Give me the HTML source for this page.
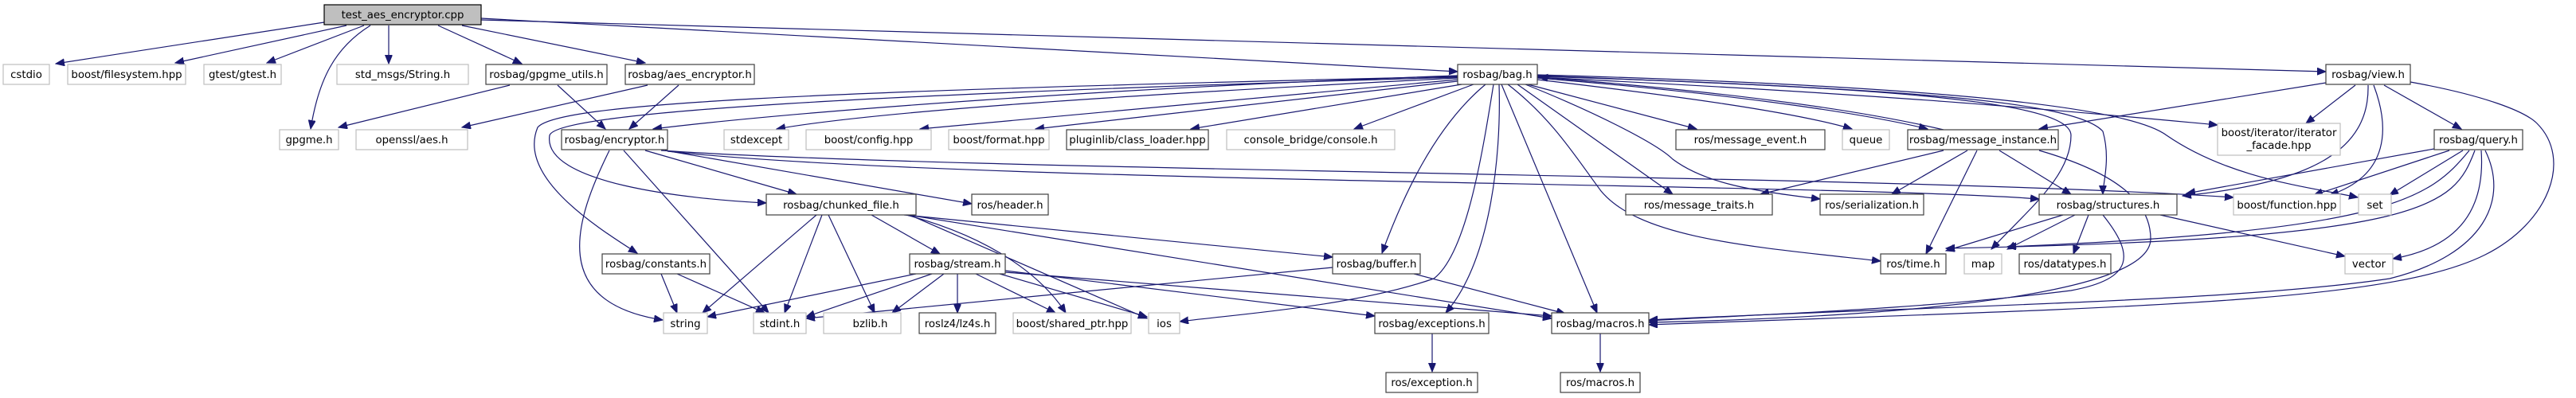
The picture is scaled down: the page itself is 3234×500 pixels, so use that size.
<!DOCTYPE html>
<html><head><meta charset="utf-8"><style>
html,body{margin:0;padding:0;background:#fff;}
svg{display:block;}
text{font-family:"DejaVu Sans","Liberation Sans",sans-serif;font-size:13.3px;fill:#000;text-anchor:middle;}
.b{fill:#fff;stroke:#404040;stroke-width:1.2;}
.g{fill:#fff;stroke:#bfbfbf;stroke-width:1.2;}
.e path{fill:none;stroke:#191970;stroke-width:1.2;marker-end:url(#a);}
</style></head><body>
<svg width="3234" height="500" viewBox="0 0 3234 500" xmlns="http://www.w3.org/2000/svg">
<defs><marker id="a" markerUnits="userSpaceOnUse" markerWidth="12" markerHeight="10" refX="11" refY="4.5" orient="auto"><path d="M0,0 L11,4.5 L0,9 z" fill="#191970" stroke="#191970"/></marker></defs>
<g class="e">
<path d="M407,28 L70,80"/>
<path d="M435,32 L220,79"/>
<path d="M457,32 L335,79"/>
<path d="M465,32 C420,60 400,100 390,162"/>
<path d="M488,32 L488,80"/>
<path d="M550,32 L655,80"/>
<path d="M580,32 L810,79"/>
<path d="M604,23 L1830,90"/>
<path d="M604,25 L2920,90"/>
<path d="M640,107 L425,160"/>
<path d="M700,107 L760,162"/>
<path d="M813,107 L580,160"/>
<path d="M852,107 L790,162"/>
<path d="M765,189 C720,280 690,380 832,402"/>
<path d="M783,189 L965,393"/>
<path d="M810,189 L1000,244"/>
<path d="M835,189 L1220,256"/>
<path d="M838,190 C1200,230 2300,230 2560,250"/>
<path d="M830,189 C1200,215 2400,220 2804,248"/>
<path d="M1830,95 C1400,110 1000,140 820,162"/>
<path d="M1830,96 C1000,115 700,130 675,160 C650,220 740,280 800,318"/>
<path d="M1830,97 C1100,118 700,140 690,170 C680,230 860,250 962,255"/>
<path d="M1830,98 C1400,120 1100,140 975,162"/>
<path d="M1830,100 L1155,162"/>
<path d="M1830,102 L1300,162"/>
<path d="M1835,106 L1495,162"/>
<path d="M1850,106 L1700,162"/>
<path d="M1865,106 C1800,160 1760,250 1735,318"/>
<path d="M1875,106 C1860,200 1840,320 1800,350 C1700,385 1550,395 1481,404"/>
<path d="M1882,106 C1885,200 1870,330 1815,393"/>
<path d="M1885,106 L2005,393"/>
<path d="M1893,106 C1950,150 1980,200 2010,240 C2060,300 2200,310 2361,328"/>
<path d="M1905,106 L2100,244"/>
<path d="M1915,106 C2000,140 2080,180 2100,200 C2140,230 2200,240 2285,250"/>
<path d="M1918,106 L2130,162"/>
<path d="M1930,100 C2100,120 2250,140 2325,162"/>
<path d="M1930,98 C2200,120 2350,145 2420,162"/>
<path d="M2440,163 C2300,130 2100,110 1932,97"/>
<path d="M1930,95 C2300,110 2600,120 2640,165 C2650,200 2640,230 2640,244"/>
<path d="M1930,96 C2400,110 2600,130 2600,170 C2600,220 2550,260 2500,313"/>
<path d="M1930,94 C2500,110 2680,140 2720,170 C2800,225 2900,235 2960,248"/>
<path d="M1930,97 C2400,120 2600,140 2784,157"/>
<path d="M2440,189 L2210,244"/>
<path d="M2470,189 L2375,244"/>
<path d="M2482,189 L2418,319"/>
<path d="M2510,189 L2600,244"/>
<path d="M2560,189 C2650,215 2700,250 2700,300 C2700,380 2300,400 2070,405"/>
<path d="M2920,104 L2560,162"/>
<path d="M2957,107 L2895,155"/>
<path d="M2980,107 C3000,160 3000,220 2925,245"/>
<path d="M2973,107 C2975,190 2900,230 2740,246"/>
<path d="M2993,107 L3090,162"/>
<path d="M3026,103 C3120,120 3170,140 3185,155 C3230,200 3200,280 3120,320 C3000,380 2700,385 2070,408"/>
<path d="M3056,187 L2745,243"/>
<path d="M3075,189 L2905,245"/>
<path d="M3092,189 L3000,245"/>
<path d="M3100,189 C3050,250 3000,290 2520,310"/>
<path d="M3107,189 C3080,260 3050,300 2443,312"/>
<path d="M3115,189 C3120,260 3090,310 3004,325"/>
<path d="M3120,189 C3150,250 3120,320 3000,350 C2800,380 2400,385 2070,402"/>
<path d="M2590,270 L2443,315"/>
<path d="M2605,270 L2520,313"/>
<path d="M2622,270 L2603,319"/>
<path d="M2640,270 C2680,320 2680,350 2600,365 C2400,390 2200,395 2070,403"/>
<path d="M2712,270 L2944,322"/>
<path d="M1025,270 L882,393"/>
<path d="M1032,270 L985,393"/>
<path d="M1040,270 L1098,393"/>
<path d="M1094,270 L1180,319"/>
<path d="M1135,270 L1673,323"/>
<path d="M1140,270 L1948,400"/>
<path d="M1138,270 C1250,300 1310,350 1338,393"/>
<path d="M1142,270 L1440,400"/>
<path d="M1150,344 L888,398"/>
<path d="M1170,344 L1012,398"/>
<path d="M1185,344 L1120,393"/>
<path d="M1202,344 L1202,393"/>
<path d="M1225,344 L1325,393"/>
<path d="M1255,344 L1440,398"/>
<path d="M1262,340 L1726,397"/>
<path d="M1262,342 L1948,397"/>
<path d="M1673,336 L1012,400"/>
<path d="M1775,344 L1965,394"/>
<path d="M830,344 L850,393"/>
<path d="M850,344 L960,393"/>
<path d="M1798,419 L1798,467"/>
<path d="M2009,419 L2009,467"/>
</g>
<g>
<rect x="407" y="6" width="197" height="25" fill="#bfbfbf" stroke="#000" stroke-width="1.2"/><text x="505.5" y="23">test_aes_encryptor.cpp</text>
<rect class="g" x="4" y="81" width="58" height="25"/><text x="33" y="98">cstdio</text>
<rect class="g" x="85" y="81" width="148" height="25"/><text x="159" y="98">boost/filesystem.hpp</text>
<rect class="g" x="256" y="81" width="97" height="25"/><text x="304.5" y="98">gtest/gtest.h</text>
<rect class="g" x="423" y="81" width="165" height="25"/><text x="505.5" y="98">std_msgs/String.h</text>
<rect class="b" x="610" y="81" width="152" height="25"/><text x="686" y="98">rosbag/gpgme_utils.h</text>
<rect class="b" x="785" y="81" width="162" height="25"/><text x="866" y="98">rosbag/aes_encryptor.h</text>
<rect class="b" x="1830" y="81" width="100" height="25"/><text x="1880" y="98">rosbag/bag.h</text>
<rect class="b" x="2920" y="81" width="106" height="25"/><text x="2973" y="98">rosbag/view.h</text>
<rect class="g" x="351" y="163" width="74" height="25"/><text x="388" y="180">gpgme.h</text>
<rect class="g" x="447" y="163" width="140" height="25"/><text x="517" y="180">openssl/aes.h</text>
<rect class="b" x="705" y="163" width="133" height="25"/><text x="771.5" y="180">rosbag/encryptor.h</text>
<rect class="g" x="909" y="163" width="81" height="25"/><text x="949.5" y="180">stdexcept</text>
<rect class="g" x="1012" y="163" width="157" height="25"/><text x="1090.5" y="180">boost/config.hpp</text>
<rect class="g" x="1191" y="163" width="126" height="25"/><text x="1254" y="180">boost/format.hpp</text>
<rect class="b" x="1339" y="163" width="178" height="25"/><text x="1428" y="180">pluginlib/class_loader.hpp</text>
<rect class="g" x="1540" y="163" width="211" height="25"/><text x="1645.5" y="180">console_bridge/console.h</text>
<rect class="b" x="2104" y="163" width="187" height="25"/><text x="2197.5" y="180">ros/message_event.h</text>
<rect class="g" x="2313" y="163" width="59" height="25"/><text x="2342.5" y="180">queue</text>
<rect class="b" x="2395" y="163" width="189" height="25"/><text x="2489.5" y="180">rosbag/message_instance.h</text>
<rect class="g" x="2784" y="155" width="154" height="40"/><text x="2861" y="171">boost/iterator/iterator</text><text x="2861" y="187">_facade.hpp</text>
<rect class="b" x="3056" y="163" width="111" height="25"/><text x="3111.5" y="180">rosbag/query.h</text>
<rect class="b" x="962" y="244" width="188" height="26"/><text x="1056" y="262">rosbag/chunked_file.h</text>
<rect class="b" x="1220" y="244" width="96" height="26"/><text x="1268" y="262">ros/header.h</text>
<rect class="b" x="2041" y="244" width="184" height="26"/><text x="2133" y="262">ros/message_traits.h</text>
<rect class="b" x="2285" y="244" width="130" height="26"/><text x="2350" y="262">ros/serialization.h</text>
<rect class="b" x="2560" y="244" width="173" height="26"/><text x="2646.5" y="262">rosbag/structures.h</text>
<rect class="g" x="2804" y="244" width="134" height="26"/><text x="2871" y="262">boost/function.hpp</text>
<rect class="g" x="2961" y="244" width="41" height="26"/><text x="2981.5" y="262">set</text>
<rect class="b" x="756" y="319" width="135" height="25"/><text x="823.5" y="336">rosbag/constants.h</text>
<rect class="b" x="1142" y="319" width="120" height="25"/><text x="1202" y="336">rosbag/stream.h</text>
<rect class="b" x="1673" y="319" width="110" height="25"/><text x="1728" y="336">rosbag/buffer.h</text>
<rect class="b" x="2361" y="319" width="82" height="25"/><text x="2402" y="336">ros/time.h</text>
<rect class="g" x="2466" y="319" width="47" height="25"/><text x="2489.5" y="336">map</text>
<rect class="b" x="2535" y="319" width="115" height="25"/><text x="2592.5" y="336">ros/datatypes.h</text>
<rect class="g" x="2944" y="319" width="60" height="25"/><text x="2974" y="336">vector</text>
<rect class="g" x="833" y="393" width="55" height="26"/><text x="860.5" y="411">string</text>
<rect class="g" x="946" y="393" width="66" height="26"/><text x="979" y="411">stdint.h</text>
<rect class="g" x="1034" y="393" width="97" height="26"/><text x="1082.5" y="411" dx="10">bzlib.h</text>
<rect class="b" x="1154" y="393" width="96" height="26"/><text x="1202" y="411">roslz4/lz4s.h</text>
<rect class="g" x="1272" y="393" width="148" height="26"/><text x="1346" y="411">boost/shared_ptr.hpp</text>
<rect class="g" x="1442" y="393" width="39" height="26"/><text x="1461.5" y="411">ios</text>
<rect class="b" x="1726" y="393" width="143" height="26"/><text x="1797.5" y="411">rosbag/exceptions.h</text>
<rect class="b" x="1948" y="393" width="122" height="26"/><text x="2009" y="411">rosbag/macros.h</text>
<rect class="b" x="1740" y="468" width="115" height="25"/><text x="1797.5" y="485">ros/exception.h</text>
<rect class="b" x="1959" y="468" width="100" height="25"/><text x="2009" y="485">ros/macros.h</text>
</g>
</svg>
</body></html>
